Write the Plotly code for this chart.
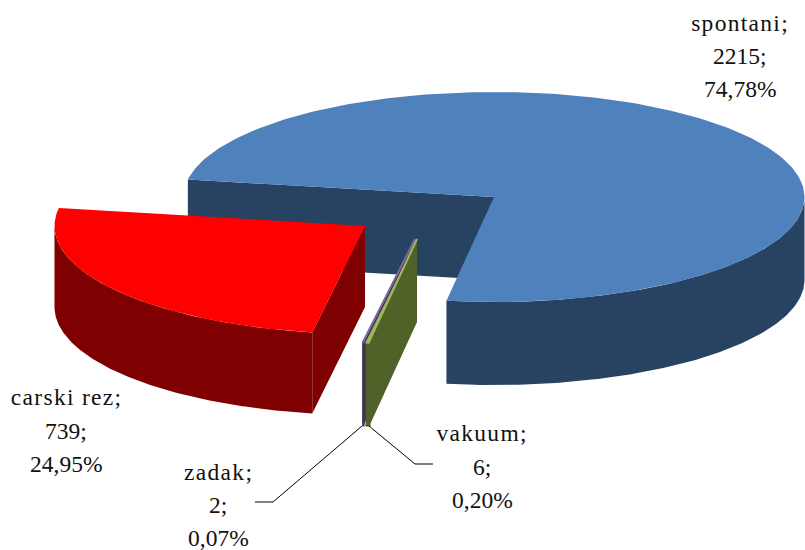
import numpy as np
import plotly.graph_objects as go

# --- data
categories = ["spontani", "vakuum", "zadak", "carski rez"]
values = [2215, 6, 2, 739]
top_colors = ["#4f81bd", "#9bbb59", "#8064a2", "#ff0000"]
side_colors = ["#284262", "#4f6228", "#403152", "#7f0000"]

# --- projection of the tilted pie onto the page (pixels)
START_ANGLE = 170.4      # ellipse parameter where the first slice begins, running clockwise
RX = 310.5
RYS = [105.0, 105.0, 105.0, 108.0]
DEPTHS = [83.0, 83.0, 83.0, 81.0]
CENTERS = [(494, 197), (417, 239), (415, 239), (365, 226)]
LABEL_POS = [(740, [23, 56, 89]), (482, [433, 467, 500]), (218, [472, 505, 538]), (66, [397, 431, 464])]
LEADERS = [None, ([433, 415, 369], [464, 464, 426]), ([255, 273, 362], [502, 502, 426]), None]
SERIF = "Liberation Serif"

total = sum(values)
fig = go.Figure()


def poly(xs, ys, fill, line_w=0):
    fig.add_trace(go.Scatter(
        x=list(xs), y=list(ys), mode="lines", fill="toself", fillcolor=fill,
        line=dict(color=fill, width=line_w), hoverinfo="skip", showlegend=False))


angle = START_ANGLE
slices = []
for i, v in enumerate(values):
    a0 = angle
    a1 = angle - v / total * 360.0
    angle = a1
    slices.append((a0, a1, i))

# draw order: blue, purple, green, red
for idx in [0, 2, 1, 3]:
    a0, a1, i = slices[idx]
    cx, cy = CENTERS[i]
    ry, depth = RYS[i], DEPTHS[i]
    tc, sc = top_colors[i], side_colors[i]
    thin = (a0 - a1) < 2

    def pt(a):
        r = np.radians(a)
        return cx + RX * np.cos(r), cy - ry * np.sin(r)

    sx, sy = pt(a0)
    # straight cut wall that faces the viewer
    poly([sx, cx, cx, sx], [sy, cy, cy + depth, sy + depth], sc)

    # outer curved wall: only the near half of the ellipse
    samples = np.linspace(a1, a0, 400)
    near = samples[np.sin(np.radians(samples)) <= 0]
    if near.size:
        xs, ys = pt(near)
        poly(np.r_[xs, xs[::-1]], np.r_[ys, ys[::-1] + depth], sc, 2 if thin else 0)

    # top
    ax, ay = pt(np.linspace(a0, a1, 240))
    poly(np.r_[cx, ax], np.r_[cy, ay], tc, 2 if thin else 0)

# labels
for name, v, (lx, lys), leader in zip(categories, values, LABEL_POS, LEADERS):
    pct = f"{v / total * 100:.2f}".replace(".", ",") + "%"
    for text, ly in zip([f"{name};", f"{v};", pct], lys):
        fig.add_annotation(x=lx, y=ly, text=text, showarrow=False,
                           xanchor="center", yanchor="middle",
                           font=dict(family=SERIF, size=23.5, color="#111111"))
    if leader:
        fig.add_trace(go.Scatter(x=leader[0], y=leader[1], mode="lines",
                                 line=dict(color="#000000", width=1),
                                 hoverinfo="skip", showlegend=False))

fig.update_layout(
    width=805, height=550, margin=dict(l=0, r=0, t=0, b=0),
    paper_bgcolor="#ffffff", plot_bgcolor="#ffffff", showlegend=False,
    xaxis=dict(range=[0, 805], visible=False, fixedrange=True),
    yaxis=dict(range=[550, 0], visible=False, fixedrange=True),
)
post = """
document.body.style.margin='0';
document.querySelectorAll('.annotation-text').forEach(function(t){
  if (/[a-z]/.test(t.textContent)) { t.style.letterSpacing='1.3px'; }
});
"""
fig.write_html("out.html", post_script=post, config={"displayModeBar": False})
